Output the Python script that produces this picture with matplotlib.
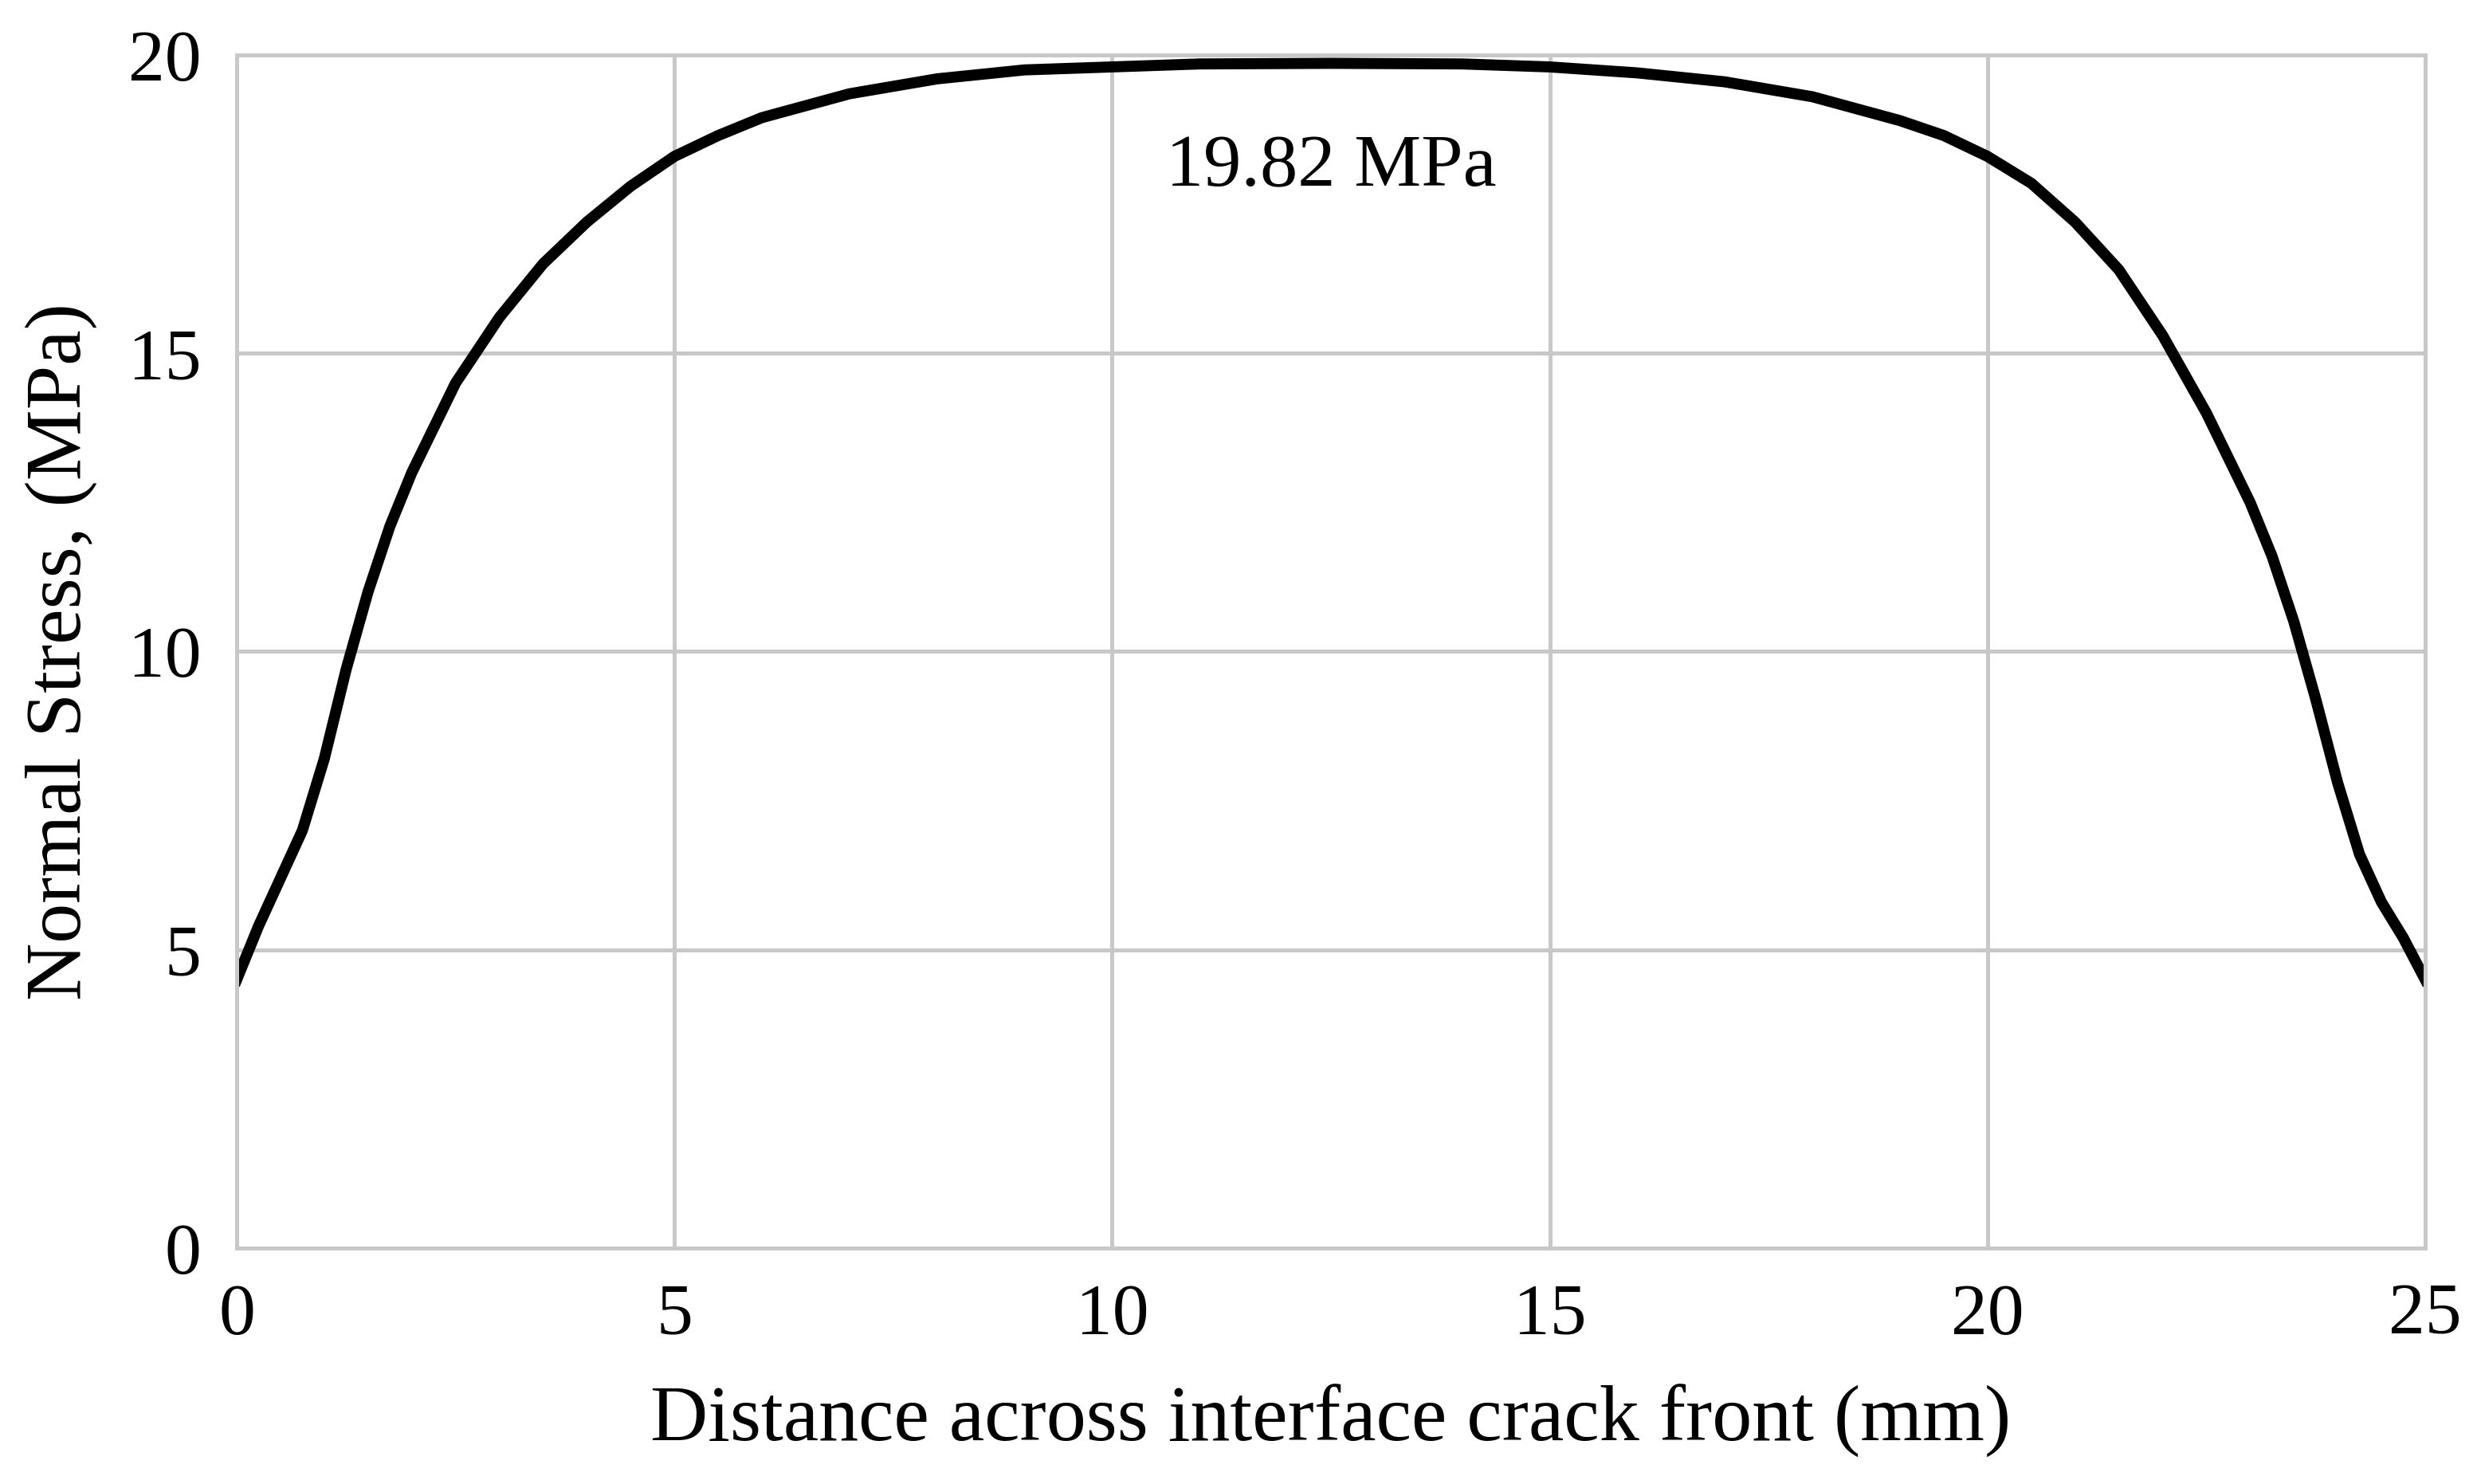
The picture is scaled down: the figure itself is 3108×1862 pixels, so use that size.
import matplotlib.pyplot as plt

# values
distance = [0, 0.25, 0.5, 0.75, 1.0, 1.25, 1.5, 1.75, 2.0, 2.5, 3.0, 3.5, 4.0, 4.5, 5.0, 5.5, 6.0, 7.0,
            8.0, 9.0, 10.0, 11.0, 12.5, 14.0, 15.0, 16.0, 17.0, 18.0, 19.0, 19.5, 20.0, 20.5, 21.0,
            21.5, 22.0, 22.5, 23.0, 23.25, 23.5, 23.75, 24.0, 24.25, 24.5, 24.75, 25.0]
stress = [4.5, 5.4, 6.2, 7.0, 8.2, 9.7, 11.0, 12.1, 13.0, 14.5, 15.6, 16.5, 17.2, 17.8, 18.3, 18.65, 18.95, 19.35,
          19.6, 19.75, 19.8, 19.85, 19.86, 19.85, 19.8, 19.7, 19.55, 19.3, 18.9, 18.65, 18.3, 17.85, 17.2,
          16.4, 15.3, 14.0, 12.5, 11.6, 10.5, 9.2, 7.8, 6.6, 5.8, 5.2, 4.5]

plt.rcParams['font.family'] = ['Liberation Serif', 'DejaVu Serif']

fig = plt.figure(figsize=(15.54, 9.31), dpi=200)
ax = fig.add_axes([297 / 3108, 1 - 1566 / 1862, (3043 - 297) / 3108, (1566 - 69) / 1862])

ax.plot(distance, stress, color='black', linewidth=5)

ax.set_xlim(0, 25)
ax.set_ylim(0, 20)
ax.set_xticks([0, 5, 10, 15, 20, 25])
ax.set_yticks([0, 5, 10, 15, 20])
ax.tick_params(labelsize=33, length=0, pad=16)
ax.grid(True, color='#c8c8c8', linewidth=1.8)
for side in ax.spines.values():
    side.set_color('#c8c8c8')
    side.set_linewidth(1.8)

ax.set_xlabel("Distance across interface crack front (mm)", fontsize=36, labelpad=16)
ax.set_ylabel("Normal Stress, (MPa)", fontsize=36, labelpad=14)
ax.text(12.5, 18.1, "19.82 MPa", fontsize=34, ha='center', va='center')

plt.savefig('out.png')
